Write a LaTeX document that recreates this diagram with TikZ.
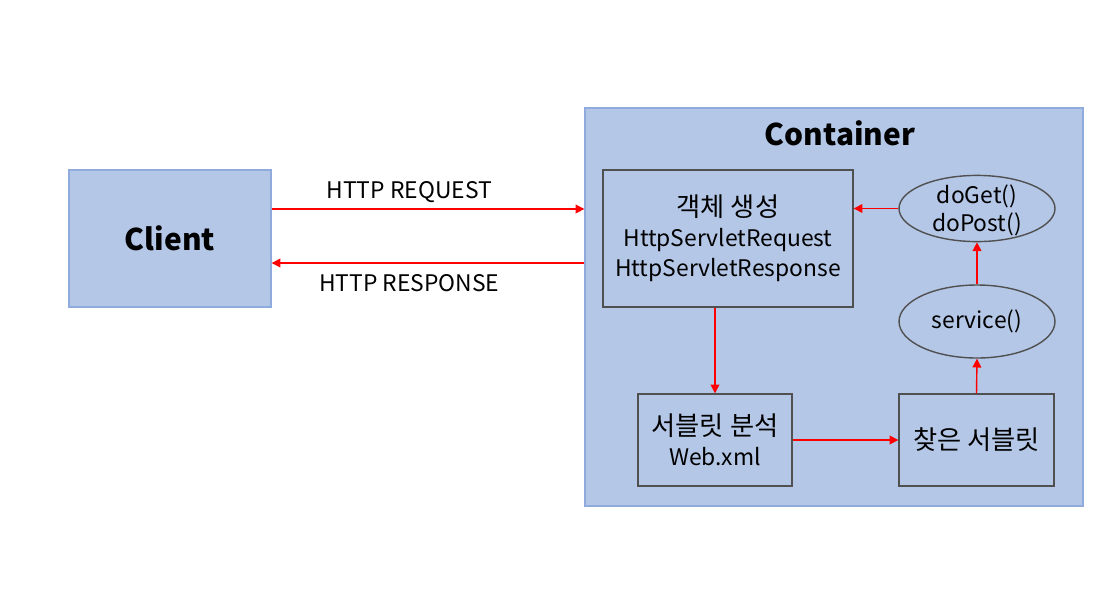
\documentclass[tikz,border=0pt]{standalone}
\usepackage{fontspec}
\setmainfont{Noto Sans CJK KR}
\newfontfamily\korean[Scale=1.15]{Noto Sans CJK KR}
\usetikzlibrary{arrows.meta,shapes.geometric}
\definecolor{boxblue}{HTML}{B4C7E7}
\definecolor{edgeblue}{HTML}{8FAADC}
\definecolor{edgegray}{HTML}{505050}
\begin{document}
\begin{tikzpicture}[x=0.02cm, y=-0.02cm,
		outerbox/.style={draw=edgeblue, fill=boxblue, thick, font=\fontsize{17}{20}\selectfont\bfseries},
		innerbox/.style={draw=edgegray, fill=boxblue, thick, align=center, font=\fontsize{13}{17}\selectfont},
		method/.style={innerbox, ellipse, inner sep=0pt, font=\fontsize{13}{16}\selectfont},
		flow/.style={draw=red, thick, -{Triangle[length=5pt, width=5pt]}},
		msg/.style={font=\fontsize{13}{16}\selectfont}]
		\useasboundingbox (0,0) rectangle (1119,609);

		\node[outerbox, minimum width=4.04cm, minimum height=2.74cm] (client) at (170,238.5) {Client};
		\node[outerbox, minimum width=9.96cm, minimum height=7.96cm] (container) at (834,307) {};
		\node[font=\fontsize{17}{20}\selectfont\bfseries] (title) at (840,133) {Container};

		\node[innerbox, minimum width=5cm, minimum height=2.74cm] (object) at (728,238.5) {{\korean 객체 생성}\\HttpServletRequest\\HttpServletResponse};
		\node[method, minimum width=3.12cm, minimum height=1.26cm, text depth=-8pt] (doget) at (977,208.5) {doGet()\\doPost()};
		\node[method, minimum width=3.12cm, minimum height=1.46cm] (service) at (977,321.5) {service()};
		\node[innerbox, minimum width=3.08cm, minimum height=1.84cm] (analysis) at (715,440) {{\korean 서블릿 분석}\\Web.xml};
		\node[innerbox, minimum width=3.1cm, minimum height=1.84cm] (found) at (976.5,440) {\korean 찾은 서블릿};

		\path
		([yshift=0.59cm]client.east) edge[flow] node[msg, above=0pt, pos=0.44] (request) {HTTP REQUEST} ([yshift=0.59cm]client.east -| container.west)
		([yshift=-0.49cm]client.east -| container.west) edge[flow] node[msg, below=3pt, pos=0.56] (response) {HTTP RESPONSE} ([yshift=-0.49cm]client.east)
		(doget.west) edge[flow] (doget.west -| object.east)
		(analysis.north |- object.south) edge[flow] (analysis.north)
		(analysis.east) edge[flow] (analysis.east -| found.west)
		(found.north) edge[flow] (service.south)
		(service.north) edge[flow] (doget.south);
	\end{tikzpicture}
\end{document}
